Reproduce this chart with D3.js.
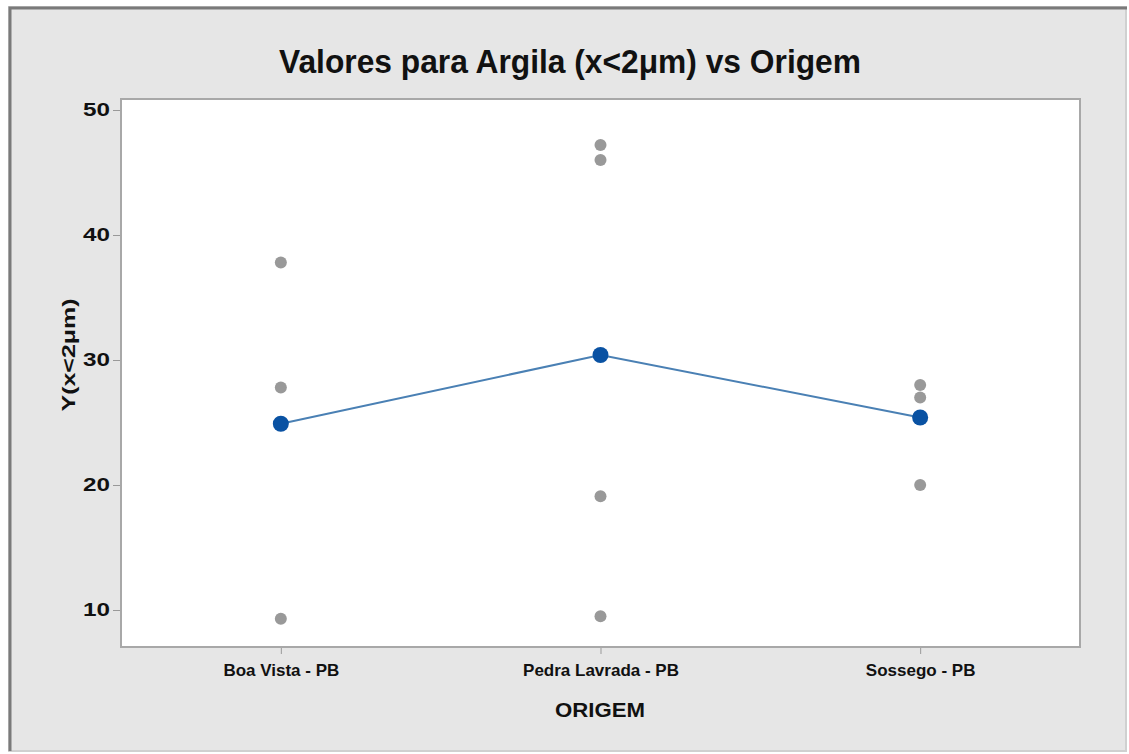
<!DOCTYPE html>
<html>
<head>
<meta charset="utf-8">
<script src="https://cdn.jsdelivr.net/npm/d3@7"></script>
<style>
  html, body { margin: 0; padding: 0; background: #fff; }
  text { font-family: "Liberation Sans", Arial, sans-serif; }
</style>
</head>
<body>
<div id="chart"></div>
<script>
// data
const categories = ["Boa Vista - PB", "Pedra Lavrada - PB", "Sossego - PB"];
const boaVista = [37.8, 27.8, 9.3];
const pedraLavrada = [47.2, 46.0, 19.1, 9.5];
const sossego = [28.0, 27.0, 20.0];
const means = [24.9, 30.4, 25.4];
const yTicks = [10, 20, 30, 40, 50];

const groups = [boaVista, pedraLavrada, sossego];

const width = 1129, height = 754,
  plot = { left: 121, top: 99, right: 1080, bottom: 647 };

const svg = d3.select("#chart")
  .append("svg")
  .attr("width", width)
  .attr("height", height);

// outer frame
svg.append("rect")
  .attr("x", 9).attr("y", 7)
  .attr("width", 1117).attr("height", 744)
  .attr("fill", "#e6e6e6")
  .attr("stroke", "#d0d0d0")
  .attr("stroke-width", 2);
svg.append("path")
  .attr("d", "M10,751 V8 H1127")
  .attr("fill", "none")
  .attr("stroke", "#7a7a7a")
  .attr("stroke-width", 3);

const xScale = d3.scalePoint()
  .domain(categories)
  .range([plot.left, plot.right])
  .padding(0.5);

const yScale = d3.scaleLinear()
  .domain([10, 50])
  .range([610, 110]);

// plot area
svg.append("rect")
  .attr("x", plot.left).attr("y", plot.top)
  .attr("width", plot.right - plot.left)
  .attr("height", plot.bottom - plot.top)
  .attr("fill", "#fff")
  .attr("stroke", "#a8a8a8")
  .attr("stroke-width", 2);

const yAxis = svg.append("g")
  .attr("transform", `translate(${plot.left - 1},0)`)
  .call(d3.axisLeft(yScale).tickValues(yTicks).tickSize(7).tickPadding(3));

const xAxis = svg.append("g")
  .attr("transform", `translate(0,${plot.bottom + 1})`)
  .call(d3.axisBottom(xScale).tickSize(6).tickPadding(7));

[yAxis, xAxis].forEach(ax => {
  ax.select(".domain").remove();
  ax.selectAll(".tick line").attr("stroke", "#999");
  ax.selectAll(".tick text")
    .attr("fill", "#111")
    .style("font-weight", "bold");
});
yAxis.selectAll(".tick text")
  .style("font-size", "18px")
  .attr("textLength", 27)
  .attr("lengthAdjust", "spacingAndGlyphs");
xAxis.selectAll(".tick text")
  .style("font-size", "17px")
  .attr("dy", "0.9em");

// individual values
const pts = [];
groups.forEach((g, i) => g.forEach(v => pts.push({ cat: categories[i], v })));

svg.append("g")
  .selectAll("circle")
  .data(pts)
  .join("circle")
  .attr("cx", d => xScale(d.cat))
  .attr("cy", d => yScale(d.v))
  .attr("r", 6)
  .attr("fill", "#999");

// mean line
const meanData = categories.map((c, i) => ({ cat: c, v: means[i] }));

svg.append("path")
  .datum(meanData)
  .attr("fill", "none")
  .attr("stroke", "#4a80b4")
  .attr("stroke-width", 2)
  .attr("d", d3.line().x(d => xScale(d.cat)).y(d => yScale(d.v)));

svg.append("g")
  .selectAll("circle")
  .data(meanData)
  .join("circle")
  .attr("cx", d => xScale(d.cat))
  .attr("cy", d => yScale(d.v))
  .attr("r", 8)
  .attr("fill", "#0a52a3");

// titles
svg.append("text")
  .attr("x", 570).attr("y", 73)
  .attr("text-anchor", "middle")
  .attr("textLength", 582)
  .attr("lengthAdjust", "spacingAndGlyphs")
  .style("font-size", "33px")
  .style("font-weight", "bold")
  .attr("fill", "#111")
  .text("Valores para Argila (x<2μm) vs Origem");

svg.append("text")
  .attr("x", 600).attr("y", 717)
  .attr("text-anchor", "middle")
  .attr("textLength", 90)
  .attr("lengthAdjust", "spacingAndGlyphs")
  .style("font-size", "20px")
  .style("font-weight", "bold")
  .attr("fill", "#111")
  .text("ORIGEM");

svg.append("text")
  .attr("transform", "translate(75,355) rotate(-90)")
  .attr("text-anchor", "middle")
  .attr("textLength", 113)
  .attr("lengthAdjust", "spacingAndGlyphs")
  .style("font-size", "19px")
  .style("font-weight", "bold")
  .attr("fill", "#111")
  .text("Y(x<2μm)");
</script>
</body>
</html>
